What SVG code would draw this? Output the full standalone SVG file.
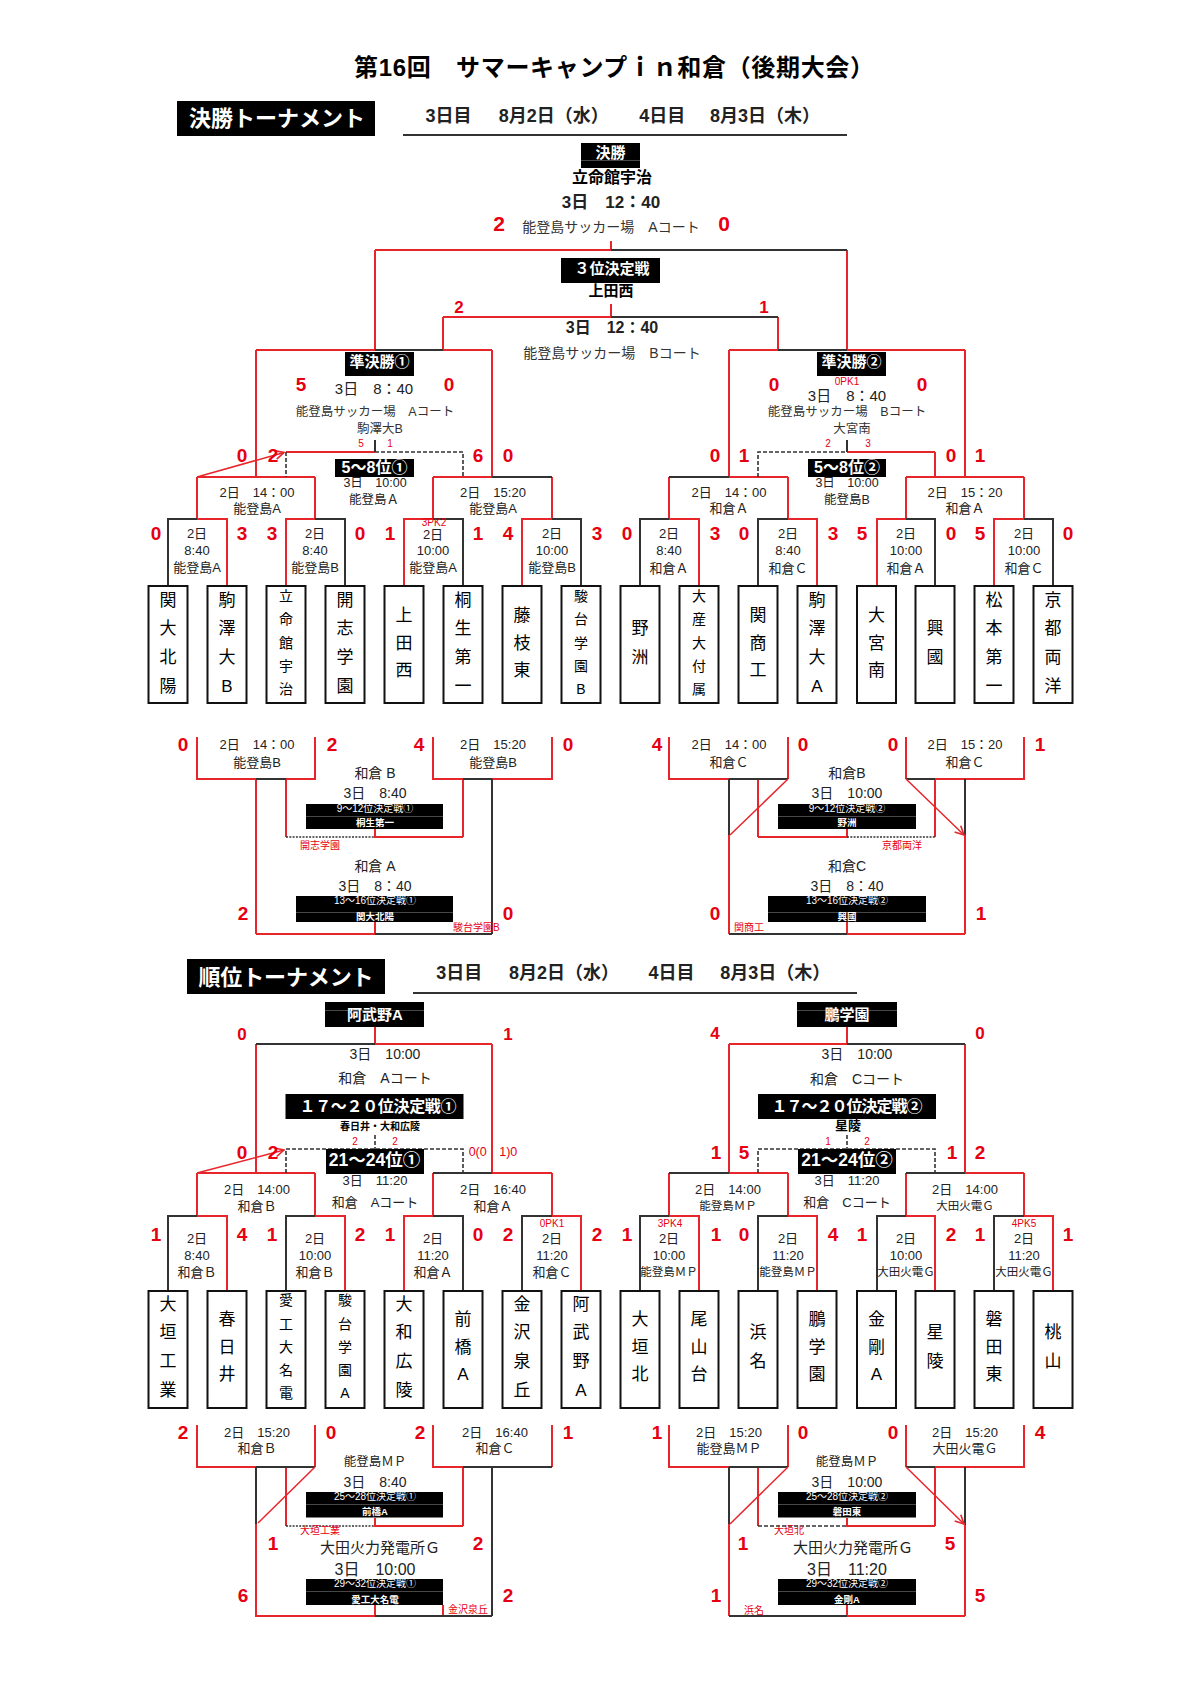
<svg xmlns="http://www.w3.org/2000/svg" width="1190" height="1684" viewBox="0 0 1190 1684">
<defs>
<style>
text{font-family:"Liberation Sans","Noto Sans CJK JP",sans-serif;dominant-baseline:central;text-anchor:middle}
.r{fill:none;stroke:#e8252b;stroke-width:2}
.k{fill:none;stroke:#333;stroke-width:2}
.kd{fill:none;stroke:#333;stroke-width:1.6;stroke-dasharray:4 2}
.kt{fill:none;stroke:#333;stroke-width:1.6;stroke-dasharray:2 1.3}
.ar{fill:none;stroke:#e8252b;stroke-width:1.5;marker-end:url(#ah)}
.blk{fill:#000}
.dv{stroke:#666;stroke-width:0.7}
.tb{fill:#fff;stroke:#111;stroke-width:2}
.sc{fill:#e60012;font-weight:bold;font-size:19px}
.sc20{fill:#e60012;font-weight:bold;font-size:21px}
.sc17{fill:#e60012;font-weight:bold;font-size:17px}
.w{fill:#fff;font-weight:bold}
.rs{fill:#e60012;font-size:10px}
.g{fill:#333}
.m{font-size:13px;fill:#222}
.mp{font-size:11.5px;fill:#222}
.mv{font-size:14px;fill:#222}
.mv2{font-size:12.5px;fill:#222}
.dt{font-size:18px;font-weight:bold;fill:#222;text-anchor:start}
.tn{font-size:17px}
.tn5{font-size:14px}
.bx{fill:#fff;font-size:10px}
.bxb{fill:#fff;font-size:9.5px;font-weight:bold}
</style>
<marker id="ah" viewBox="0 0 10 10" refX="9" refY="5" markerWidth="11" markerHeight="11" markerUnits="userSpaceOnUse" orient="auto"><path d="M1,1 L9,5 L1,9" fill="none" stroke="#e8252b" stroke-width="1.5"/></marker>
</defs>
<rect width="1190" height="1684" fill="#fff"/>

<g id="connectors">
<path class="r" d="M611,241V250 M375,250H611 M375,250V350 M847,250V350 M611,304V317 M443,317H611 M443,317V350 M778,317V350 M256,350H375 M443,350H492 M256,350V477 M492,350V477 M729,350H778 M847,350H965 M729,350V477 M965,350V477 M286,452H375 M847,452H935 M935,452V477 M197,477H315 M197,477V519 M315,477V519 M433,477H492 M433,477V519 M552,477V519 M729,477H788 M669,477V519 M788,477V519 M906,477H1024 M906,477V519 M1024,477V519 M197,519H227V586 M286,586V519H315 M404,586V519H433 M522,586V519H552 M669,519H699V586 M788,519H817V586 M877,586V519H906 M994,586V519H1024"/>
<path class="k" d="M611,250H847 M611,317H778 M375,350H443 M778,350H847 M375,440V452 M847,440V452 M492,477H552 M669,477H729 M168,586V519H197 M315,519H345V586 M433,519H463V586 M552,519H581V586 M640,586V519H669 M758,586V519H788 M906,519H935V586 M1024,519H1053V586"/>
<path class="kd" d="M375,452H463V477 M286,452V477 M758,477V452H847"/>
<path class="ar" d="M197,477L284,452.5"/>
<path class="r" d="M197,737V779H256 M286,779H315V737 M256,779V934 M286,779V837 M375,829V837H463 M433,737V779H463 M492,779H552V737 M463,779V837 M256,934H375V922 M669,737V779H729 M788,737V779 M758,779V837 M729,835V934 M758,837H847V829 M906,737V779 M935,779H1024V737 M935,779V837 M965,835V934 M847,922V934H965"/>
<path class="k" d="M256,779H286 M463,779H492 M492,779V934 M375,934H492 M729,779H788 M729,779V835 M906,779H935 M965,779V835 M729,934H847"/>
<path class="kt" d="M286,837H375 M847,837H935"/>
<path class="ar" d="M788,779L730,835 M906,779L964,835"/>
<path class="r" d="M375,1027V1044H492 M256,1044V1173 M492,1044V1173 M847,1027V1044H729 M729,1044V1173 M965,1044V1173 M197,1173H315 M197,1173V1216 M315,1173V1216 M492,1173H552 M433,1173V1216 M552,1173V1216 M729,1173H788 M669,1173V1216 M788,1173V1216 M965,1173H1024 M906,1173V1216 M1024,1173V1216 M197,1216H227V1291 M315,1216H345V1291 M404,1291V1216H433 M552,1216H581V1291 M669,1216H699V1291 M788,1216H817V1291 M906,1216H935V1291 M1024,1216H1053V1291"/>
<path class="k" d="M256,1044H375 M847,1044H965 M433,1173H492 M669,1173H729 M906,1173H965 M168,1291V1216H197 M286,1291V1216H315 M433,1216H463V1291 M522,1291V1216H552 M640,1291V1216H669 M758,1291V1216H788 M877,1291V1216H906 M994,1291V1216H1024"/>
<path class="kd" d="M375,1135V1149 M286,1173V1149H463V1173 M847,1135V1149 M758,1173V1149H935V1173"/>
<path class="ar" d="M197,1173L284,1150"/>
<path class="r" d="M197,1425V1467H256 M315,1425V1467 M286,1467V1526 M256,1524V1616H375V1605 M375,1518V1526H463 M433,1425V1467H463V1526 M552,1425V1467 M443,1605V1616 M669,1425V1467H729 M788,1425V1467 M758,1467V1526 M729,1524V1616 M847,1518V1526H935 M906,1425V1467 M935,1467H1024V1425 M935,1467V1526 M965,1525V1616 M847,1605V1616H965"/>
<path class="k" d="M256,1467H315 M256,1467V1524 M463,1467H552 M492,1467V1616 M375,1616H492 M729,1467H788 M729,1467V1524 M906,1467H935 M965,1467V1525 M729,1616H847"/>
<path class="kt" d="M286,1526H375"/>
<path class="kd" d="M758,1526H847"/>
<path class="ar" d="M315,1467L258,1523 M788,1467L730,1524 M906,1467L964,1524"/>
</g>

<g id="title"><text x="614" y="67" font-size="24" font-weight="bold" textLength="520">第16回　サマーキャンプｉｎ和倉（後期大会）</text></g>
<g id="header-final"><rect x="177" y="101" width="198" height="35" class="blk"/><text x="277" y="118" class="w" font-size="22" textLength="176">決勝トーナメント</text></g>
<g id="date-top"><text class="dt" y="116"><tspan x="425.5">3日目</tspan><tspan x="480.7">　8月2日（水）</tspan><tspan x="621.3">　4日目</tspan><tspan x="692">　8月3日（木）</tspan></text><line x1="403" y1="135" x2="847" y2="135" stroke="#333" stroke-width="2"/></g>

<g id="final">
<rect x="581" y="143" width="59" height="25" class="blk"/><line class="dv" x1="581" y1="160.5" x2="640" y2="160.5"/>
<text x="610.5" y="152.5" class="w" font-size="15">決勝</text>
<text x="612" y="177" font-size="16" font-weight="bold">立命館宇治</text>
<text x="611" y="202" font-size="17" font-weight="bold" fill="#222">3日　12：40</text>
<text x="499" y="223" class="sc20">2</text>
<text x="611" y="227" font-size="14" class="g">能登島サッカー場　Aコート</text>
<text x="724" y="223" class="sc20">0</text>
</g>
<g id="third">
<rect x="561" y="258" width="99" height="25" class="blk"/>
<text x="612" y="268.5" class="w" font-size="15">３位決定戦</text>
<text x="611" y="290" font-size="15" font-weight="bold">上田西</text>
<text x="459" y="307" class="sc17">2</text><text x="764" y="307" class="sc17">1</text>
<text x="612" y="327" font-size="16" font-weight="bold" fill="#222">3日　12：40</text>
<text x="612" y="353" font-size="14" class="g">能登島サッカー場　Bコート</text>
</g>
<g id="semi1">
<rect x="345" y="352" width="69" height="24" class="blk"/>
<text x="379.5" y="361" class="w" font-size="15">準決勝①</text>
<text x="301" y="384" class="sc">5</text><text x="449" y="384" class="sc">0</text>
<text x="374" y="388" font-size="15" fill="#222">3日　8：40</text>
<text x="375" y="412" font-size="12.5" class="g">能登島サッカー場　Aコート</text>
<text x="380" y="429" font-size="12.5" class="g">駒澤大B</text>
<text x="361" y="443" class="rs">5</text><text x="390" y="443" class="rs">1</text>
</g>
<g id="semi2">
<rect x="817" y="352" width="69" height="24" class="blk"/>
<text x="851.5" y="361" class="w" font-size="15">準決勝②</text>
<text x="847" y="381" class="rs">0PK1</text>
<text x="774" y="384" class="sc">0</text><text x="922" y="384" class="sc">0</text>
<text x="847" y="395" font-size="15" fill="#222">3日　8：40</text>
<text x="847" y="412" font-size="12.5" class="g">能登島サッカー場　Bコート</text>
<text x="852" y="429" font-size="12.5" class="g">大宮南</text>
<text x="828" y="443" class="rs">2</text><text x="868" y="443" class="rs">3</text>
</g>
<g id="p5-8-1">
<rect x="335" y="459" width="79" height="18" class="blk"/>
<text x="374.5" y="467.5" class="w" font-size="16">5～8位①</text>
<text x="375" y="483" class="mv2">3日　10:00</text>
<text x="374" y="500" class="mv2">能登島Ａ</text>
<text x="242" y="455" class="sc">0</text><text x="273" y="455" class="sc">2</text>
<text x="478" y="455" class="sc">6</text><text x="508" y="455" class="sc">0</text>
</g>
<g id="p5-8-2">
<rect x="808" y="459" width="78" height="18" class="blk"/>
<text x="847" y="467.5" class="w" font-size="16">5～8位②</text>
<text x="847" y="483" class="mv2">3日　10:00</text>
<text x="847" y="500" class="mv2">能登島B</text>
<text x="715" y="455" class="sc">0</text><text x="744" y="455" class="sc">1</text>
<text x="951" y="455" class="sc">0</text><text x="980" y="455" class="sc">1</text>
</g>
<g id="qf-top">
<text x="257" y="492" class="m">2日　14：00</text><text x="257" y="508.5" class="m">能登島A</text>
<text x="493" y="492" class="m">2日　15:20</text><text x="493" y="508.5" class="m">能登島A</text>
<text x="729" y="492" class="m">2日　14：00</text><text x="729" y="508.5" class="m">和倉Ａ</text>
<text x="965" y="492" class="m">2日　15：20</text><text x="965" y="508.5" class="m">和倉Ａ</text>
</g>
<g id="r16-top">
<text x="197" y="533" class="m">2日</text><text x="197" y="550" class="m">8:40</text><text x="197" y="567.5" class="m">能登島A</text>
<text x="315" y="533" class="m">2日</text><text x="315" y="550" class="m">8:40</text><text x="315" y="567.5" class="m">能登島B</text>
<text x="434" y="522" class="rs" font-size="8.5">3PK2</text>
<text x="433" y="534" class="m">2日</text><text x="433" y="550" class="m">10:00</text><text x="433" y="567.5" class="m">能登島A</text>
<text x="552" y="533" class="m">2日</text><text x="552" y="550" class="m">10:00</text><text x="552" y="567.5" class="m">能登島B</text>
<text x="669" y="533" class="m">2日</text><text x="669" y="550" class="m">8:40</text><text x="669" y="568.5" class="m">和倉Ａ</text>
<text x="788" y="533" class="m">2日</text><text x="788" y="550" class="m">8:40</text><text x="788" y="568.5" class="m">和倉Ｃ</text>
<text x="906" y="533" class="m">2日</text><text x="906" y="550" class="m">10:00</text><text x="906" y="568.5" class="m">和倉Ａ</text>
<text x="1024" y="533" class="m">2日</text><text x="1024" y="550" class="m">10:00</text><text x="1024" y="568.5" class="m">和倉Ｃ</text>
<text x="156" y="533" class="sc">0</text><text x="242" y="533" class="sc">3</text><text x="272" y="533" class="sc">3</text><text x="360" y="533" class="sc">0</text>
<text x="390" y="533" class="sc">1</text><text x="478" y="533" class="sc">1</text><text x="508" y="533" class="sc">4</text><text x="597" y="533" class="sc">3</text>
<text x="627" y="533" class="sc">0</text><text x="715" y="533" class="sc">3</text><text x="744" y="533" class="sc">0</text><text x="833" y="533" class="sc">3</text>
<text x="862" y="533" class="sc">5</text><text x="951" y="533" class="sc">0</text><text x="980" y="533" class="sc">5</text><text x="1068" y="533" class="sc">0</text>
</g>

<g id="t01"><rect class="tb" x="148.5" y="586" width="39" height="117"/><text class="tn"><tspan x="168" y="599.5">関</tspan><tspan x="168" y="628.2">大</tspan><tspan x="168" y="656.8">北</tspan><tspan x="168" y="685.5">陽</tspan></text></g>
<g id="t02"><rect class="tb" x="207.5" y="586" width="39" height="117"/><text class="tn"><tspan x="227" y="599.5">駒</tspan><tspan x="227" y="628.2">澤</tspan><tspan x="227" y="656.8">大</tspan><tspan x="227" y="685.5">B</tspan></text></g>
<g id="t03"><rect class="tb" x="266.5" y="586" width="39" height="117"/><text class="tn5"><tspan x="286" y="596">立</tspan><tspan x="286" y="619.3">命</tspan><tspan x="286" y="642.5">館</tspan><tspan x="286" y="665.7">宇</tspan><tspan x="286" y="689">治</tspan></text></g>
<g id="t04"><rect class="tb" x="325.5" y="586" width="39" height="117"/><text class="tn"><tspan x="345" y="599.5">開</tspan><tspan x="345" y="628.2">志</tspan><tspan x="345" y="656.8">学</tspan><tspan x="345" y="685.5">園</tspan></text></g>
<g id="t05"><rect class="tb" x="384.5" y="586" width="39" height="117"/><text class="tn"><tspan x="404" y="615">上</tspan><tspan x="404" y="642.5">田</tspan><tspan x="404" y="670">西</tspan></text></g>
<g id="t06"><rect class="tb" x="443.5" y="586" width="39" height="117"/><text class="tn"><tspan x="463" y="599.5">桐</tspan><tspan x="463" y="628.2">生</tspan><tspan x="463" y="656.8">第</tspan><tspan x="463" y="685.5">一</tspan></text></g>
<g id="t07"><rect class="tb" x="502.5" y="586" width="39" height="117"/><text class="tn"><tspan x="522" y="615">藤</tspan><tspan x="522" y="642.5">枝</tspan><tspan x="522" y="670">東</tspan></text></g>
<g id="t08"><rect class="tb" x="561.5" y="586" width="39" height="117"/><text class="tn5"><tspan x="581" y="596">駿</tspan><tspan x="581" y="619.3">台</tspan><tspan x="581" y="642.5">学</tspan><tspan x="581" y="665.7">園</tspan><tspan x="581" y="689">B</tspan></text></g>
<g id="t09"><rect class="tb" x="620.5" y="586" width="39" height="117"/><text class="tn"><tspan x="640" y="628">野</tspan><tspan x="640" y="657">洲</tspan></text></g>
<g id="t10"><rect class="tb" x="679.5" y="586" width="39" height="117"/><text class="tn5"><tspan x="699" y="596">大</tspan><tspan x="699" y="619.3">産</tspan><tspan x="699" y="642.5">大</tspan><tspan x="699" y="665.7">付</tspan><tspan x="699" y="689">属</tspan></text></g>
<g id="t11"><rect class="tb" x="738.5" y="586" width="39" height="117"/><text class="tn"><tspan x="758" y="615">関</tspan><tspan x="758" y="642.5">商</tspan><tspan x="758" y="670">工</tspan></text></g>
<g id="t12"><rect class="tb" x="797.5" y="586" width="39" height="117"/><text class="tn"><tspan x="817" y="599.5">駒</tspan><tspan x="817" y="628.2">澤</tspan><tspan x="817" y="656.8">大</tspan><tspan x="817" y="685.5">A</tspan></text></g>
<g id="t13"><rect class="tb" x="857" y="586" width="39" height="117"/><text class="tn"><tspan x="876.5" y="615">大</tspan><tspan x="876.5" y="642.5">宮</tspan><tspan x="876.5" y="670">南</tspan></text></g>
<g id="t14"><rect class="tb" x="915.5" y="586" width="39" height="117"/><text class="tn"><tspan x="935" y="628">興</tspan><tspan x="935" y="657">國</tspan></text></g>
<g id="t15"><rect class="tb" x="974.5" y="586" width="39" height="117"/><text class="tn"><tspan x="994" y="599.5">松</tspan><tspan x="994" y="628.2">本</tspan><tspan x="994" y="656.8">第</tspan><tspan x="994" y="685.5">一</tspan></text></g>
<g id="t16"><rect class="tb" x="1033.5" y="586" width="39" height="117"/><text class="tn"><tspan x="1053" y="599.5">京</tspan><tspan x="1053" y="628.2">都</tspan><tspan x="1053" y="656.8">両</tspan><tspan x="1053" y="685.5">洋</tspan></text></g>

<g id="cons-top-left">
<text x="183" y="744" class="sc">0</text><text x="332" y="744" class="sc">2</text>
<text x="257" y="744" class="m">2日　14：00</text><text x="257" y="762" class="m">能登島B</text>
<text x="419" y="744" class="sc">4</text><text x="568" y="744" class="sc">0</text>
<text x="493" y="744" class="m">2日　15:20</text><text x="493" y="762" class="m">能登島B</text>
</g>
<g id="p9-12-1">
<text x="375" y="773" class="mv">和倉 B</text><text x="375" y="793" class="mv">3日　8:40</text>
<rect x="306" y="804" width="137" height="25" class="blk"/><line class="dv" x1="306" y1="816.5" x2="443" y2="816.5"/>
<text x="375" y="808.5" class="bx">9～12位決定戦①</text><text x="375" y="822.5" class="bxb">桐生第一</text>
<text x="320" y="845" class="rs">開志学園</text>
</g>
<g id="p13-16-1">
<text x="375" y="866" class="mv">和倉 A</text><text x="375" y="886" class="mv">3日　8：40</text>
<rect x="296" y="896" width="157" height="26" class="blk"/><line class="dv" x1="296" y1="912.5" x2="453" y2="912.5"/>
<text x="375" y="900" class="bx">13～16位決定戦①</text><text x="375" y="916" class="bxb">関大北陽</text>
<text x="243" y="913" class="sc">2</text><text x="508" y="913" class="sc">0</text>
<text x="453" y="927" class="rs" style="text-anchor:start">駿台学園B</text>
</g>
<g id="cons-top-right">
<text x="657" y="744" class="sc">4</text><text x="803" y="744" class="sc">0</text>
<text x="729" y="744" class="m">2日　14：00</text><text x="729" y="762" class="m">和倉Ｃ</text>
<text x="893" y="744" class="sc">0</text><text x="1040" y="744" class="sc">1</text>
<text x="965" y="744" class="m">2日　15：20</text><text x="965" y="762" class="m">和倉Ｃ</text>
</g>
<g id="p9-12-2">
<text x="847" y="773" class="mv">和倉B</text><text x="847" y="793" class="mv">3日　10:00</text>
<rect x="778" y="804" width="138" height="25" class="blk"/><line class="dv" x1="778" y1="816.5" x2="916" y2="816.5"/>
<text x="847" y="808.5" class="bx">9～12位決定戦②</text><text x="847" y="822.5" class="bxb">野洲</text>
<text x="902" y="845" class="rs">京都両洋</text>
</g>
<g id="p13-16-2">
<text x="847" y="866" class="mv">和倉C</text><text x="847" y="886" class="mv">3日　8：40</text>
<rect x="768" y="896" width="158" height="26" class="blk"/><line class="dv" x1="768" y1="912.5" x2="926" y2="912.5"/>
<text x="847" y="900" class="bx">13～16位決定戦②</text><text x="847" y="916" class="bxb">興國</text>
<text x="715" y="913" class="sc">0</text><text x="981" y="913" class="sc">1</text>
<text x="749" y="927" class="rs">関商工</text>
</g>

<g id="header-rank"><rect x="187" y="959" width="198" height="35" class="blk"/><text x="286" y="977" class="w" font-size="22" textLength="175">順位トーナメント</text></g>
<g id="date-bottom"><text class="dt" y="973"><tspan x="436.3">3日目</tspan><tspan x="491">　8月2日（水）</tspan><tspan x="630.6">　4日目</tspan><tspan x="702.3">　8月3日（木）</tspan></text><line x1="413" y1="993" x2="857" y2="993" stroke="#333" stroke-width="2"/></g>

<g id="p17-20-1">
<rect x="325" y="1002" width="99" height="25" class="blk"/><line class="dv" x1="325" y1="1010.5" x2="424" y2="1010.5"/>
<text x="375" y="1014" class="w" font-size="15">阿武野A</text>
<text x="242" y="1034" class="sc17">0</text><text x="508" y="1034" class="sc17">1</text>
<text x="385" y="1054" font-size="14" fill="#222">3日　10:00</text>
<text x="385" y="1078" font-size="14" fill="#222">和倉　Aコート</text>
<rect x="285.5" y="1094" width="178" height="25" class="blk"/>
<text x="378" y="1106" class="w" font-size="16" textLength="157">１７～２０位決定戦①</text>
<text x="380" y="1126" font-size="10" font-weight="bold">春日井・大和広陵</text>
<text x="355" y="1141" class="rs" font-size="11">2</text><text x="395" y="1141" class="rs" font-size="11">2</text>
</g>
<g id="p21-24-1">
<rect x="326" y="1149" width="98" height="25" class="blk"/>
<text x="374.5" y="1160" class="w" font-size="17.5">21～24位①</text>
<text x="242" y="1152" class="sc">0</text><text x="273" y="1152" class="sc">2</text>
<text x="493" y="1152" fill="#e60012" font-size="12.5">0(0　1)0</text>
<text x="375" y="1180" class="m">3日　11:20</text>
<text x="375" y="1202" class="m">和倉　Aコート</text>
</g>
<g id="p17-20-2">
<rect x="797" y="1002" width="100" height="25" class="blk"/><line class="dv" x1="797" y1="1010.5" x2="897" y2="1010.5"/>
<text x="847" y="1014" class="w" font-size="15">鵬学園</text>
<text x="715" y="1033" class="sc17">4</text><text x="980" y="1033" class="sc17">0</text>
<text x="857" y="1054" font-size="14" fill="#222">3日　10:00</text>
<text x="857" y="1079" font-size="14" fill="#222">和倉　Cコート</text>
<rect x="758" y="1094" width="178" height="25" class="blk"/>
<text x="847" y="1106" class="w" font-size="16" textLength="151">１７～２０位決定戦②</text>
<text x="848" y="1125" font-size="13" font-weight="bold">星陵</text>
<text x="828" y="1141" class="rs" font-size="11">1</text><text x="867" y="1141" class="rs" font-size="11">2</text>
</g>
<g id="p21-24-2">
<rect x="798" y="1149" width="98" height="25" class="blk"/>
<text x="847" y="1160" class="w" font-size="17.5">21～24位②</text>
<text x="716" y="1152" class="sc">1</text><text x="744" y="1152" class="sc">5</text>
<text x="952" y="1152" class="sc">1</text><text x="980" y="1152" class="sc">2</text>
<text x="847" y="1180" class="m">3日　11:20</text>
<text x="847" y="1202" class="m">和倉　Cコート</text>
</g>
<g id="qf-bottom">
<text x="257" y="1189" class="m">2日　14:00</text><text x="257" y="1206" class="m">和倉Ｂ</text>
<text x="493" y="1189" class="m">2日　16:40</text><text x="493" y="1206" class="m">和倉Ａ</text>
<text x="728" y="1189" class="m">2日　14:00</text><text x="728" y="1206" class="mp">能登島ＭＰ</text>
<text x="965" y="1189" class="m">2日　14:00</text><text x="965" y="1206" class="mp">大田火電Ｇ</text>
</g>
<g id="r16-bottom">
<text x="197" y="1238" class="m">2日</text><text x="197" y="1255" class="m">8:40</text><text x="197" y="1272" class="m">和倉Ｂ</text>
<text x="315" y="1238" class="m">2日</text><text x="315" y="1255" class="m">10:00</text><text x="315" y="1272" class="m">和倉Ｂ</text>
<text x="433" y="1238" class="m">2日</text><text x="433" y="1255" class="m">11:20</text><text x="433" y="1272" class="m">和倉Ａ</text>
<text x="552" y="1223" class="rs">0PK1</text>
<text x="552" y="1238" class="m">2日</text><text x="552" y="1255" class="m">11:20</text><text x="552" y="1272" class="m">和倉Ｃ</text>
<text x="670" y="1223" class="rs">3PK4</text>
<text x="669" y="1238" class="m">2日</text><text x="669" y="1255" class="m">10:00</text><text x="669" y="1272" class="mp">能登島ＭＰ</text>
<text x="788" y="1238" class="m">2日</text><text x="788" y="1255" class="m">11:20</text><text x="788" y="1272" class="mp">能登島ＭＰ</text>
<text x="906" y="1238" class="m">2日</text><text x="906" y="1255" class="m">10:00</text><text x="906" y="1272" class="mp">大田火電Ｇ</text>
<text x="1024" y="1223" class="rs">4PK5</text>
<text x="1024" y="1238" class="m">2日</text><text x="1024" y="1255" class="m">11:20</text><text x="1024" y="1272" class="mp">大田火電Ｇ</text>
<text x="156" y="1234" class="sc">1</text><text x="242" y="1234" class="sc">4</text><text x="272" y="1234" class="sc">1</text><text x="360" y="1234" class="sc">2</text>
<text x="390" y="1234" class="sc">1</text><text x="478" y="1234" class="sc">0</text><text x="508" y="1234" class="sc">2</text><text x="597" y="1234" class="sc">2</text>
<text x="627" y="1234" class="sc">1</text><text x="716" y="1234" class="sc">1</text><text x="744" y="1234" class="sc">0</text><text x="833" y="1234" class="sc">4</text>
<text x="862" y="1234" class="sc">1</text><text x="951" y="1234" class="sc">2</text><text x="980" y="1234" class="sc">1</text><text x="1068" y="1234" class="sc">1</text>
</g>

<g id="t17"><rect class="tb" x="148.5" y="1291" width="39" height="117"/><text class="tn"><tspan x="168" y="1303.7">大</tspan><tspan x="168" y="1332.4">垣</tspan><tspan x="168" y="1361">工</tspan><tspan x="168" y="1389.7">業</tspan></text></g>
<g id="t18"><rect class="tb" x="207.5" y="1291" width="39" height="117"/><text class="tn"><tspan x="227" y="1319.2">春</tspan><tspan x="227" y="1346.7">日</tspan><tspan x="227" y="1374.2">井</tspan></text></g>
<g id="t19"><rect class="tb" x="266.5" y="1291" width="39" height="117"/><text class="tn5"><tspan x="286" y="1300.2">愛</tspan><tspan x="286" y="1323.5">工</tspan><tspan x="286" y="1346.7">大</tspan><tspan x="286" y="1369.9">名</tspan><tspan x="286" y="1393.2">電</tspan></text></g>
<g id="t20"><rect class="tb" x="325.5" y="1291" width="39" height="117"/><text class="tn5"><tspan x="345" y="1300.2">駿</tspan><tspan x="345" y="1323.5">台</tspan><tspan x="345" y="1346.7">学</tspan><tspan x="345" y="1369.9">園</tspan><tspan x="345" y="1393.2">A</tspan></text></g>
<g id="t21"><rect class="tb" x="384.5" y="1291" width="39" height="117"/><text class="tn"><tspan x="404" y="1303.7">大</tspan><tspan x="404" y="1332.4">和</tspan><tspan x="404" y="1361">広</tspan><tspan x="404" y="1389.7">陵</tspan></text></g>
<g id="t22"><rect class="tb" x="443.5" y="1291" width="39" height="117"/><text class="tn"><tspan x="463" y="1319.2">前</tspan><tspan x="463" y="1346.7">橋</tspan><tspan x="463" y="1374.2">A</tspan></text></g>
<g id="t23"><rect class="tb" x="502.5" y="1291" width="39" height="117"/><text class="tn"><tspan x="522" y="1303.7">金</tspan><tspan x="522" y="1332.4">沢</tspan><tspan x="522" y="1361">泉</tspan><tspan x="522" y="1389.7">丘</tspan></text></g>
<g id="t24"><rect class="tb" x="561.5" y="1291" width="39" height="117"/><text class="tn"><tspan x="581" y="1303.7">阿</tspan><tspan x="581" y="1332.4">武</tspan><tspan x="581" y="1361">野</tspan><tspan x="581" y="1389.7">A</tspan></text></g>
<g id="t25"><rect class="tb" x="620.5" y="1291" width="39" height="117"/><text class="tn"><tspan x="640" y="1319.2">大</tspan><tspan x="640" y="1346.7">垣</tspan><tspan x="640" y="1374.2">北</tspan></text></g>
<g id="t26"><rect class="tb" x="679.5" y="1291" width="39" height="117"/><text class="tn"><tspan x="699" y="1319.2">尾</tspan><tspan x="699" y="1346.7">山</tspan><tspan x="699" y="1374.2">台</tspan></text></g>
<g id="t27"><rect class="tb" x="738.5" y="1291" width="39" height="117"/><text class="tn"><tspan x="758" y="1332.2">浜</tspan><tspan x="758" y="1361.2">名</tspan></text></g>
<g id="t28"><rect class="tb" x="797.5" y="1291" width="39" height="117"/><text class="tn"><tspan x="817" y="1319.2">鵬</tspan><tspan x="817" y="1346.7">学</tspan><tspan x="817" y="1374.2">園</tspan></text></g>
<g id="t29"><rect class="tb" x="857" y="1291" width="39" height="117"/><text class="tn"><tspan x="876.5" y="1319.2">金</tspan><tspan x="876.5" y="1346.7">剛</tspan><tspan x="876.5" y="1374.2">A</tspan></text></g>
<g id="t30"><rect class="tb" x="915.5" y="1291" width="39" height="117"/><text class="tn"><tspan x="935" y="1332.2">星</tspan><tspan x="935" y="1361.2">陵</tspan></text></g>
<g id="t31"><rect class="tb" x="974.5" y="1291" width="39" height="117"/><text class="tn"><tspan x="994" y="1319.2">磐</tspan><tspan x="994" y="1346.7">田</tspan><tspan x="994" y="1374.2">東</tspan></text></g>
<g id="t32"><rect class="tb" x="1033.5" y="1291" width="39" height="117"/><text class="tn"><tspan x="1053" y="1332.2">桃</tspan><tspan x="1053" y="1361.2">山</tspan></text></g>

<g id="cons-bottom-left">
<text x="183" y="1432" class="sc">2</text><text x="331" y="1432" class="sc">0</text>
<text x="257" y="1432" class="m">2日　15:20</text><text x="257" y="1448" class="m">和倉Ｂ</text>
<text x="420" y="1432" class="sc">2</text><text x="568" y="1432" class="sc">1</text>
<text x="495" y="1432" class="m">2日　16:40</text><text x="495" y="1448" class="m">和倉Ｃ</text>
</g>
<g id="p25-28-1">
<text x="375" y="1462" class="mv2">能登島ＭＰ</text><text x="375" y="1482" class="mv">3日　8:40</text>
<rect x="306" y="1492" width="137" height="25.5" class="blk"/><line class="dv" x1="306" y1="1504.5" x2="443" y2="1504.5"/>
<text x="375" y="1496.5" class="bx">25～28位決定戦①</text><text x="375" y="1511.5" class="bxb">前橋A</text>
<text x="320" y="1530" class="rs">大垣工業</text>
<text x="273" y="1543" class="sc">1</text><text x="478" y="1543" class="sc">2</text>
</g>
<g id="p29-32-1">
<text x="380" y="1547" font-size="15" fill="#222">大田火力発電所Ｇ</text>
<text x="375" y="1569" font-size="16" fill="#222">3日　10:00</text>
<rect x="306" y="1579" width="137" height="26" class="blk"/><line class="dv" x1="306" y1="1591.5" x2="443" y2="1591.5"/>
<text x="375" y="1583.5" class="bx">29～32位決定戦①</text><text x="375" y="1599.5" class="bxb">愛工大名電</text>
<text x="243" y="1595" class="sc">6</text><text x="508" y="1595" class="sc">2</text>
<text x="468" y="1609.5" class="rs">金沢泉丘</text>
</g>
<g id="cons-bottom-right">
<text x="657" y="1432" class="sc">1</text><text x="803" y="1432" class="sc">0</text>
<text x="729" y="1432" class="m">2日　15:20</text><text x="729" y="1448" class="m">能登島ＭＰ</text>
<text x="893" y="1432" class="sc">0</text><text x="1040" y="1432" class="sc">4</text>
<text x="965" y="1432" class="m">2日　15:20</text><text x="965" y="1448" class="m">大田火電Ｇ</text>
</g>
<g id="p25-28-2">
<text x="847" y="1462" class="mv2">能登島ＭＰ</text><text x="847" y="1482" class="mv">3日　10:00</text>
<rect x="778" y="1492" width="138" height="25.5" class="blk"/><line class="dv" x1="778" y1="1504.5" x2="916" y2="1504.5"/>
<text x="847" y="1496.5" class="bx">25～28位決定戦②</text><text x="847" y="1511.5" class="bxb">磐田東</text>
<text x="789" y="1530" class="rs">大垣北</text>
<text x="743" y="1543" class="sc">1</text><text x="950" y="1543" class="sc">5</text>
</g>
<g id="p29-32-2">
<text x="853" y="1547" font-size="15" fill="#222">大田火力発電所Ｇ</text>
<text x="847" y="1569" font-size="16" fill="#222">3日　11:20</text>
<rect x="778" y="1579" width="138" height="26" class="blk"/><line class="dv" x1="778" y1="1591.5" x2="916" y2="1591.5"/>
<text x="847" y="1583.5" class="bx">29～32位決定戦②</text><text x="847" y="1599.5" class="bxb">金剛A</text>
<text x="716" y="1595" class="sc">1</text><text x="980" y="1595" class="sc">5</text>
<text x="754" y="1610" class="rs">浜名</text>
</g>
</svg>
